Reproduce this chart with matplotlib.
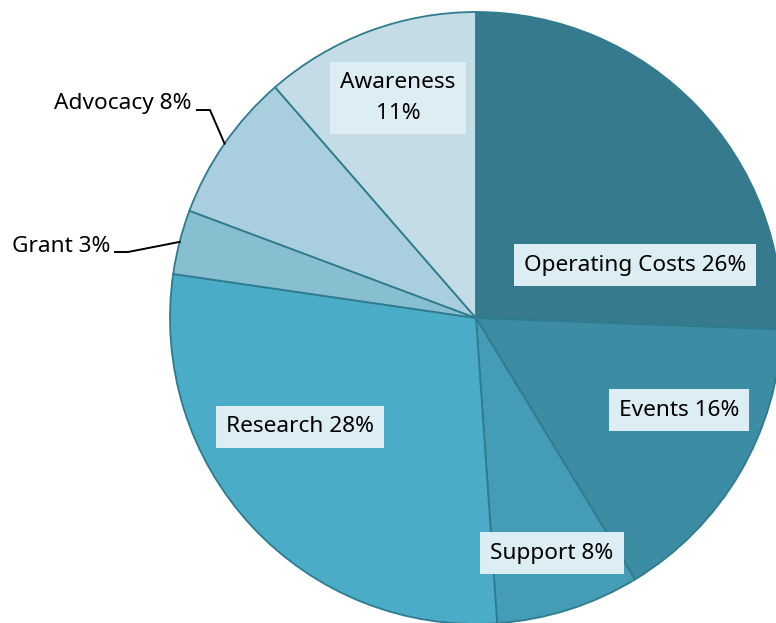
import numpy as np
import matplotlib.pyplot as plt

categories = ["Operating Costs", "Events", "Support", "Research", "Grant", "Advocacy", "Awareness"]
shares = [25.6, 15.7, 7.6, 28.4, 3.4, 7.9, 11.4]
colors = ["#367b8d", "#3c8ca4", "#459cb6", "#4aacc6", "#87bfd1", "#a9cedd", "#c4dce5"]

W, H = 776, 623
fig = plt.figure(figsize=(W / 100, H / 100), dpi=100)
ax = fig.add_axes([0, 0, 1, 1])

cx, cy, r = 476, H - 318, 306
wedges, _ = ax.pie(shares, colors=colors, startangle=90, counterclock=False,
                   center=(cx, cy), radius=r, frame=True,
                   wedgeprops=dict(edgecolor="#2f7b8f", linewidth=1.3))
ax.set_xlim(0, W)
ax.set_ylim(0, H)
ax.set_aspect("equal")
ax.axis("off")

plt.rcParams['font.family'] = ['Noto Sans', 'DejaVu Sans']
box = dict(boxstyle="square,pad=0.45", fc="#dcedf3", ec="none")
fs = 16.3

# labels inside slices (pixel positions from top-left)
inside = {
    0: (635, 265, "{} {}%"),
    1: (679, 410, "{} {}%"),
    2: (552, 553, "{} {}%"),
    3: (300, 427, "{} {}%"),
    6: (398, 98, "{}\n{}%"),
}
for i, (px, py, fmt) in inside.items():
    ax.text(px, H - py, fmt.format(categories[i], round(shares[i])),
            ha="center", va="center", fontsize=fs, bbox=box, linespacing=1.6)

# outside labels with leader lines
outside = {4: (110, 246, 128), 5: (192, 104, 210)}
for i, (px, py, kx) in outside.items():
    w = wedges[i]
    ang = np.deg2rad((w.theta1 + w.theta2) / 2)
    ex, ey = cx + r * np.cos(ang), cy + r * np.sin(ang)
    ly = H - py - 6
    ax.plot([px + 5, kx, ex], [ly, ly, ey], color="black", lw=1.4)
    ax.text(px, H - py, "{} {}%".format(categories[i], round(shares[i])),
            ha="right", va="center", fontsize=fs)

fig.savefig("out.png", dpi=100, facecolor="white")
